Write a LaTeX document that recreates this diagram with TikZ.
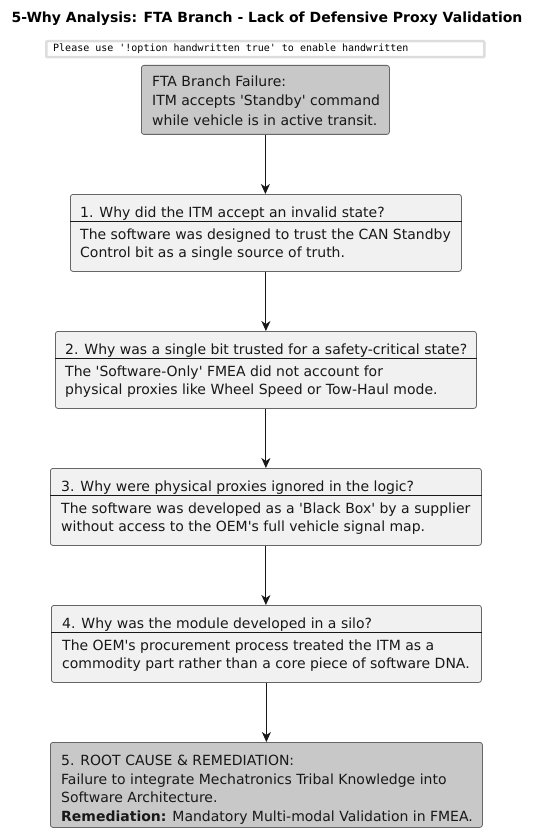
\documentclass[tikz,border=0pt]{standalone}
\usepackage{fontspec}
\setmainfont{DejaVu Sans}[Ligatures=TeXOff]
\newfontfamily\monof{DejaVu Sans Mono}[Ligatures=TeXOff]
\usetikzlibrary{arrows.meta}
\definecolor{darkbox}{HTML}{C8C8C8}
\definecolor{lightbox}{HTML}{F1F1F1}
\definecolor{edge}{HTML}{666666}
\definecolor{ink}{HTML}{181818}
\definecolor{warnedge}{HTML}{DDDDDD}
\tikzset{
  box/.style={draw=edge, line width=0.8pt, rounded corners=2.5pt, inner sep=0pt, anchor=north west},
  txt/.style={anchor=base west, inner sep=0pt, font=\fontsize{14}{16}\selectfont, text=ink},
  sepline/.style={draw=ink, line width=0.9pt},
  flow/.style={draw=ink, line width=0.9pt, -{Stealth[length=10pt, width=9pt, inset=3pt]}}
}
\begin{document}
\begin{tikzpicture}[x=1pt,y=-1pt]
\useasboundingbox[fill=white] (0,0) rectangle (537,840);
% title
\node[anchor=base, inner sep=0pt, font=\bfseries\fontsize{14}{16}\selectfont] (title) at (267,23) {5-Why Analysis: FTA Branch - Lack of Defensive Proxy Validation};
% warning
\node[box, draw=warnedge, line width=2.5pt, rounded corners=1pt, fill=white, minimum width=438pt, minimum height=16pt] (warn) at (45,40) {};
\node[anchor=base west, inner sep=0pt, font=\monof\fontsize{10}{12}\selectfont] (warntxt) at (53,51.5) {Please use '!option handwritten true' to enable handwritten};
% box 0
\node[box, fill=darkbox, minimum width=248pt, minimum height=69pt] (b0) at (141,65) {};
\node[txt] (t0a) at (152,87) {FTA Branch Failure:};
\node[txt] (t0b) at (152,106) {ITM accepts 'Standby' command};
\node[txt] (t0c) at (152,125) {while vehicle is in active transit.};
% box 1
\node[box, fill=lightbox, minimum width=391pt, minimum height=77pt] (b1) at (70,194) {};
\node[txt] (t1h) at (80,217) {1. Why did the ITM accept an invalid state?};
\draw[sepline] ([yshift=-27pt]b1.north west) -- ([yshift=-27pt]b1.north east);
\node[txt] (t1a) at (80,239) {The software was designed to trust the CAN Standby};
\node[txt] (t1b) at (80,257) {Control bit as a single source of truth.};
% box 2
\node[box, fill=lightbox, minimum width=421pt, minimum height=77pt] (b2) at (55,331) {};
\node[txt] (t2h) at (65,354) {2. Why was a single bit trusted for a safety-critical state?};
\draw[sepline] ([yshift=-27pt]b2.north west) -- ([yshift=-27pt]b2.north east);
\node[txt] (t2a) at (65,376) {The 'Software-Only' FMEA did not account for};
\node[txt] (t2b) at (65,394) {physical proxies like Wheel Speed or Tow-Haul mode.};
% box 3
\node[box, fill=lightbox, minimum width=431pt, minimum height=77pt] (b3) at (50,468) {};
\node[txt] (t3h) at (61,491) {3. Why were physical proxies ignored in the logic?};
\draw[sepline] ([yshift=-27pt]b3.north west) -- ([yshift=-27pt]b3.north east);
\node[txt] (t3a) at (61,513) {The software was developed as a 'Black Box' by a supplier};
\node[txt] (t3b) at (61,531) {without access to the OEM's full vehicle signal map.};
% box 4
\node[box, fill=lightbox, minimum width=430pt, minimum height=77pt] (b4) at (51,605) {};
\node[txt] (t4h) at (62,628) {4. Why was the module developed in a silo?};
\draw[sepline] ([yshift=-27pt]b4.north west) -- ([yshift=-27pt]b4.north east);
\node[txt] (t4a) at (62,650) {The OEM's procurement process treated the ITM as a};
\node[txt] (t4b) at (62,668) {commodity part rather than a core piece of software DNA.};
% box 5
\node[box, fill=darkbox, minimum width=432pt, minimum height=85pt] (b5) at (50,742) {};
\node[txt] (t5a) at (61,765) {5. ROOT CAUSE \& REMEDIATION:};
\node[txt] (t5b) at (61,784) {Failure to integrate Mechatronics Tribal Knowledge into};
\node[txt] (t5c) at (61,802) {Software Architecture.};
\node[txt] (t5d) at (61,821) {\textbf{Remediation:} Mandatory Multi-modal Validation in FMEA.};
% connectors
\draw[flow] (b0.south) -- (b0.south |- b1.north);
\draw[flow] (b1.south) -- (b1.south |- b2.north);
\draw[flow] (b2.south) -- (b2.south |- b3.north);
\draw[flow] (b3.south) -- (b3.south |- b4.north);
\draw[flow] (b4.south) -- (b4.south |- b5.north);
\end{tikzpicture}
\end{document}
